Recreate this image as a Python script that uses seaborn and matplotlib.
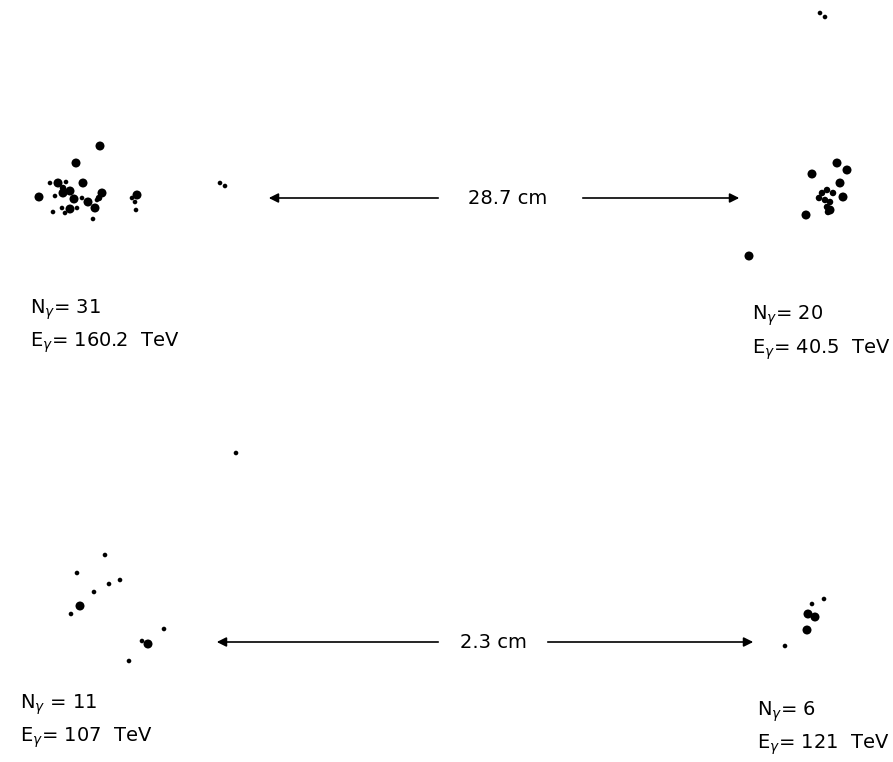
import pandas as pd
import matplotlib.pyplot as plt
import seaborn as sns

# Posiciones de las cascadas (pixeles de la figura original), tamano del punto
top_left_x = [100, 76, 50, 58, 66, 83, 63, 63, 70, 39, 55, 74, 82, 88, 102, 99, 97, 95, 70, 77, 62, 65, 53, 93, 137, 132, 135, 136, 220, 225]
top_left_y = [146, 163, 183, 183, 182, 183, 188, 193, 191, 197, 196, 199, 198, 202, 193, 198, 200, 208, 209, 208, 208, 213, 212, 219, 195, 198, 202, 210, 183, 186]
top_left_s = ["big", "big", "small", "big", "small", "big", "med", "big", "big", "big", "small", "big", "small", "big", "big", "med", "small", "big", "big", "small", "small", "small", "small", "small", "big", "small", "small", "small", "small", "small"]

top_right_x = [820, 825, 837, 847, 812, 840, 827, 822, 833, 843, 819, 825, 830, 827, 830, 828, 806, 749]
top_right_y = [13, 17, 163, 170, 174, 183, 190, 193, 193, 197, 198, 200, 202, 207, 210, 212, 215, 256]
top_right_s = ["small", "small", "big", "big", "big", "big", "med", "med", "med", "big", "med", "med", "med", "med", "big", "med", "big", "big"]

bot_left_x = [236, 105, 77, 109, 120, 94, 80, 71, 164, 142, 148, 129]
bot_left_y = [453, 555, 573, 584, 580, 592, 606, 614, 629, 641, 644, 661]
bot_left_s = ["small", "small", "small", "small", "small", "small", "big", "small", "small", "small", "big", "small"]

bot_right_x = [824, 812, 808, 815, 807, 785]
bot_right_y = [599, 604, 614, 617, 630, 646]
bot_right_s = ["small", "small", "big", "big", "big", "small"]

labels = [
    (30, 310, "N$_\\gamma$= 31"), (30, 343, "E$_\\gamma$= 160.2  TeV"),
    (752, 316, "N$_\\gamma$= 20"), (752, 350, "E$_\\gamma$= 40.5  TeV"),
    (20, 705, "N$_\\gamma$ = 11"), (20, 738, "E$_\\gamma$= 107  TeV"),
    (757, 712, "N$_\\gamma$= 6"), (757, 745, "E$_\\gamma$= 121  TeV"),
]

df = pd.DataFrame({
    "x": top_left_x + top_right_x + bot_left_x + bot_right_x,
    "y": top_left_y + top_right_y + bot_left_y + bot_right_y,
    "tam": top_left_s + top_right_s + bot_left_s + bot_right_s,
})

sns.set_style("white")
fig = plt.figure(figsize=(8.93, 7.62), dpi=100)
ax = fig.add_axes([0, 0, 1, 1])

sns.scatterplot(data=df, x="x", y="y", size="tam",
                sizes={"big": 42, "med": 22, "small": 11},
                color="black", edgecolor="none", legend=False, ax=ax)

# Flechas de separacion
arr = dict(arrowstyle="-|>", color="black", lw=1.2, mutation_scale=14)
ax.annotate("", xy=(266, 198), xytext=(441, 198), arrowprops=arr)
ax.annotate("", xy=(742, 198), xytext=(580, 198), arrowprops=arr)
ax.text(508, 198, "28.7 cm", fontsize=14, color="black", ha="center", va="center")

ax.annotate("", xy=(214, 642), xytext=(441, 642), arrowprops=arr)
ax.annotate("", xy=(756, 642), xytext=(545, 642), arrowprops=arr)
ax.text(493, 642, "2.3 cm", fontsize=14, color="black", ha="center", va="center")

for lx, ly, t in labels:
    ax.text(lx, ly, t, fontsize=14, color="black", ha="left", va="center")

ax.set_xlim(0, 893)
ax.set_ylim(762, 0)
ax.axis("off")

plt.savefig("out.png", dpi=100)
